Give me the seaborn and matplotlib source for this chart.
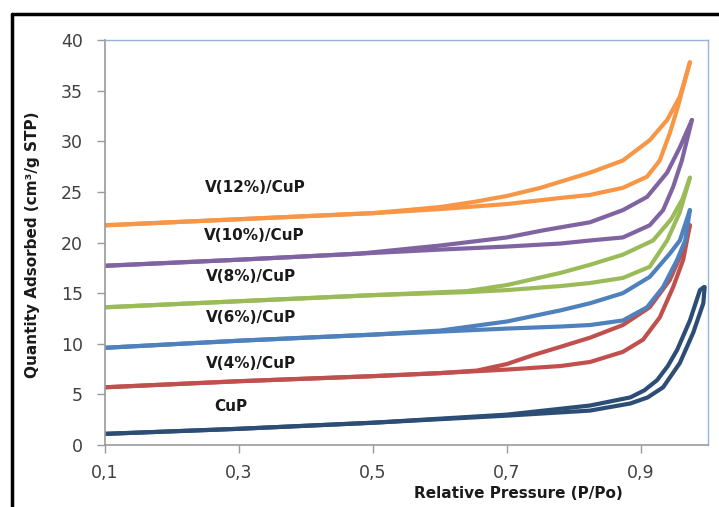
import matplotlib
matplotlib.use("Agg")
import matplotlib.pyplot as plt
import seaborn as sns
import pandas as pd
from matplotlib.lines import Line2D

# ---------------- data ----------------
samples = ["CuP", "V(4%)/CuP", "V(6%)/CuP", "V(8%)/CuP", "V(10%)/CuP", "V(12%)/CuP"]
colors = ["#2C4D75", "#C0504D", "#4F81BD", "#9BBB59", "#8064A2", "#F79646"]

cup_p_ads = [0.10, 0.30, 0.50, 0.70, 0.824, 0.884, 0.91, 0.933, 0.958, 0.978, 0.993, 0.995]
cup_v_ads = [1.1, 1.6, 2.2, 2.9, 3.4, 4.1, 4.7, 5.7, 8.1, 11.1, 14.0, 15.6]
cup_p_des = [0.10, 0.30, 0.50, 0.70, 0.824, 0.884, 0.905, 0.924, 0.94, 0.954, 0.973, 0.988, 0.994]
cup_v_des = [1.1, 1.6, 2.2, 3.0, 3.9, 4.7, 5.4, 6.4, 7.8, 9.4, 12.3, 15.3, 15.6]

v4_p_ads = [0.10, 0.30, 0.50, 0.60, 0.70, 0.78, 0.824, 0.873, 0.903, 0.928, 0.948, 0.963, 0.973]
v4_v_ads = [5.7, 6.3, 6.8, 7.1, 7.45, 7.8, 8.2, 9.2, 10.4, 12.6, 15.6, 18.3, 21.7]
v4_p_des = [0.10, 0.30, 0.50, 0.60, 0.655, 0.70, 0.74, 0.78, 0.824, 0.873, 0.913, 0.943, 0.963, 0.973]
v4_v_des = [5.7, 6.3, 6.8, 7.1, 7.35, 8.0, 8.9, 9.7, 10.6, 11.85, 13.6, 16.3, 19.3, 21.7]

v6_p_ads = [0.10, 0.30, 0.50, 0.60, 0.70, 0.78, 0.824, 0.873, 0.909, 0.933, 0.954, 0.966, 0.973]
v6_v_ads = [9.6, 10.3, 10.9, 11.2, 11.5, 11.7, 11.85, 12.3, 13.6, 15.6, 18.3, 20.2, 23.2]
v6_p_des = [0.10, 0.30, 0.50, 0.60, 0.70, 0.78, 0.824, 0.873, 0.913, 0.943, 0.958, 0.973]
v6_v_des = [9.6, 10.3, 10.9, 11.3, 12.2, 13.3, 14.0, 15.0, 16.6, 18.9, 20.2, 23.2]

v8_p_ads = [0.10, 0.30, 0.50, 0.64, 0.70, 0.78, 0.824, 0.873, 0.913, 0.939, 0.958, 0.973]
v8_v_ads = [13.6, 14.2, 14.8, 15.1, 15.3, 15.7, 16.0, 16.5, 17.6, 20.2, 23.0, 26.4]
v8_p_des = [0.10, 0.30, 0.50, 0.64, 0.70, 0.78, 0.824, 0.873, 0.918, 0.945, 0.962, 0.973]
v8_v_des = [13.6, 14.2, 14.8, 15.2, 15.8, 17.0, 17.8, 18.8, 20.2, 22.3, 24.3, 26.4]

v10_p_ads = [0.10, 0.30, 0.48, 0.60, 0.70, 0.78, 0.824, 0.873, 0.913, 0.933, 0.948, 0.961, 0.976]
v10_v_ads = [17.7, 18.3, 18.9, 19.3, 19.6, 19.9, 20.2, 20.5, 21.7, 23.2, 25.5, 28.1, 32.1]
v10_p_des = [0.10, 0.30, 0.48, 0.60, 0.70, 0.754, 0.824, 0.873, 0.909, 0.939, 0.958, 0.976]
v10_v_des = [17.7, 18.3, 18.9, 19.7, 20.5, 21.2, 22.0, 23.2, 24.5, 26.9, 29.4, 32.1]

v12_p_ads = [0.10, 0.30, 0.50, 0.60, 0.70, 0.78, 0.824, 0.873, 0.909, 0.928, 0.943, 0.955, 0.973]
v12_v_ads = [21.7, 22.3, 22.9, 23.3, 23.8, 24.4, 24.7, 25.4, 26.5, 28.1, 30.8, 33.4, 37.8]
v12_p_des = [0.10, 0.30, 0.50, 0.60, 0.65, 0.70, 0.75, 0.824, 0.873, 0.913, 0.939, 0.958, 0.973]
v12_v_des = [21.7, 22.3, 22.9, 23.5, 24.0, 24.6, 25.4, 26.9, 28.1, 30.1, 32.1, 34.4, 37.8]

label_x = [0.288, 0.318, 0.318, 0.318, 0.322, 0.324]
label_y = [3.85, 8.0, 12.6, 16.6, 20.7, 25.4]

x_ticks = [0.1, 0.3, 0.5, 0.7, 0.9]
x_ticklabels = ["0,1", "0,3", "0,5", "0,7", "0,9"]
y_ticks = [0, 5, 10, 15, 20, 25, 30, 35, 40]

branches = [
    (cup_p_ads, cup_v_ads, cup_p_des, cup_v_des),
    (v4_p_ads, v4_v_ads, v4_p_des, v4_v_des),
    (v6_p_ads, v6_v_ads, v6_p_des, v6_v_des),
    (v8_p_ads, v8_v_ads, v8_p_des, v8_v_des),
    (v10_p_ads, v10_v_ads, v10_p_des, v10_v_des),
    (v12_p_ads, v12_v_ads, v12_p_des, v12_v_des),
]

rows = []
for name, (pa, va, pd_, vd) in zip(samples, branches):
    for i, (p, v) in enumerate(zip(pa, va)):
        rows.append(dict(sample=name, branch="ads", order=i, P=p, V=v))
    for i, (p, v) in enumerate(zip(pd_, vd)):
        rows.append(dict(sample=name, branch="des", order=i, P=p, V=v))
df = pd.DataFrame(rows)

# ---------------- figure ----------------
sns.set_theme(style="white")
plt.rcParams["font.family"] = ["DejaVu Sans"]

fig = plt.figure(figsize=(7.19, 5.07), dpi=100)
ax = fig.add_axes([105 / 719, 1 - 445 / 507, (708 - 105) / 719, (445 - 40) / 507])

for name, col in zip(samples, colors):
    for br in ["ads", "des"]:
        sub = df[(df["sample"] == name) & (df["branch"] == br)].sort_values("order")
        sns.lineplot(data=sub, x="P", y="V", sort=False, estimator=None, color=col,
                     linewidth=3.0, ax=ax, legend=False,
                     solid_capstyle="round", solid_joinstyle="round")

for name, lx, ly in zip(samples, label_x, label_y):
    ax.text(lx, ly, name, ha="center", va="center", fontsize=11, fontweight="bold",
            color="#1a1a1a")

ax.set_xlim(0.1, 1.0)
ax.set_ylim(0, 40)
ax.set_xticks(x_ticks)
ax.set_xticklabels(x_ticklabels)
ax.set_yticks(y_ticks)
ax.tick_params(axis="both", which="major", direction="out", length=6, width=1,
               color="#9a9a9a", labelsize=12.5, labelcolor="#404040", left=True,
               bottom=True)
ax.tick_params(axis="x", pad=8)
ax.tick_params(axis="y", pad=10)
ax.set_xlabel("")
ax.set_ylabel("")

for side in ["left", "bottom"]:
    ax.spines[side].set_color("#9a9a9a")
    ax.spines[side].set_linewidth(1.2)
for side in ["top", "right"]:
    ax.spines[side].set_color("#95B3D7")
    ax.spines[side].set_linewidth(1.0)
ax.grid(False)

fig.text(518 / 719, 1 - 493 / 507, "Relative Pressure (P/Po)", ha="center", va="center",
         fontsize=11, fontweight="bold", color="#1a1a1a")
fig.text(33 / 719, 1 - 245 / 507, "Quantity Adsorbed (cm\u00b3/g STP)", ha="center",
         va="center", rotation=90, fontsize=11, fontweight="bold", color="#1a1a1a")

# black frame (top and left edges visible in the reference)
fig.add_artist(Line2D([12 / 719, 1.0], [1 - 14 / 507, 1 - 14 / 507], color="black",
                      linewidth=2.5, transform=fig.transFigure))
fig.add_artist(Line2D([12 / 719, 12 / 719], [0.0, 1 - 14 / 507], color="black",
                      linewidth=2.5, transform=fig.transFigure))

fig.savefig("out.png", dpi=100, facecolor="white")
